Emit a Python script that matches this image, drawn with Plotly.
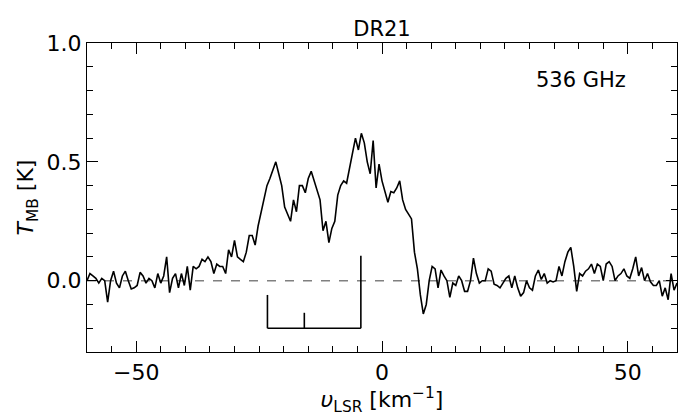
import numpy as np
import plotly.graph_objects as go

# Channel velocity grid (km/s): -60 .. 60, 0.6 km/s channels
v_start, v_step, n_chan = -60.0, 0.6, 201
velocity = [round(v_start + i * v_step, 2) for i in range(n_chan)]

# Main-beam temperature (K)
tmb = [
    # -60 .. -36.0
    0.0, 0.03, 0.02, 0.01, -0.01, 0.01, 0.0, -0.09, 0.0, 0.04,
    -0.01, -0.03, 0.02, 0.04, 0.0, -0.035, -0.03, -0.02, 0.035, 0.02,
    -0.01, 0.01, 0.0, -0.03, 0.03, -0.01, 0.02, 0.10, -0.05, 0.01,
    0.03, -0.03, 0.03, -0.02, 0.06, -0.04, 0.06, 0.05, 0.06, 0.09,
    0.08,
    # -35.4 .. -12.6
    0.10, 0.08, 0.03, 0.07, 0.06, 0.06, 0.03, 0.13, 0.10, 0.17,
    0.10, 0.09, 0.08, 0.12, 0.19, 0.19, 0.15, 0.23, 0.29, 0.34,
    0.40, 0.43, 0.47, 0.50, 0.45, 0.40, 0.31, 0.28, 0.25, 0.34,
    0.29, 0.40, 0.40, 0.37, 0.43, 0.46, 0.42, 0.37, 0.34,
    # -12.0 .. 10.2
    0.21, 0.25, 0.16, 0.22, 0.25, 0.36, 0.40, 0.42, 0.41, 0.47,
    0.53, 0.60, 0.55, 0.62, 0.58, 0.50, 0.45, 0.59, 0.39, 0.49,
    0.42, 0.37, 0.33, 0.375, 0.37, 0.39, 0.42, 0.34, 0.30, 0.28,
    0.26, 0.12, 0.05, -0.06, -0.14, -0.10, 0.0, 0.06,
    # 10.8 .. 34.2
    0.05, -0.03, 0.045, 0.02, 0.0, -0.07, -0.01, -0.02, 0.02, 0.0,
    -0.045, -0.045, 0.0, 0.095, 0.03, -0.01, 0.0, 0.0, 0.05, 0.04,
    -0.015, -0.02, -0.03, -0.01, 0.01, 0.02, -0.03, 0.02, -0.03, -0.065,
    -0.05, 0.0, -0.03, -0.04, 0.02, 0.045, 0.005, 0.03, -0.01, 0.0,
    # 34.8 .. 60.0
    -0.005, 0.0, 0.06, 0.02, 0.08, 0.12, 0.14, 0.06, -0.045, 0.03,
    0.02, 0.04, 0.05, 0.07, 0.03, 0.07, 0.06, 0.0, 0.07, 0.08,
    0.06, 0.0, 0.02, 0.03, 0.05, 0.02, 0.01, 0.05, 0.10, 0.02,
    0.055, 0.0, 0.03, -0.005, -0.02, -0.02, 0.0, -0.065, -0.03, -0.08,
    0.03, -0.04, -0.01,
]

# Velocity-component markers (bracket)
comp_vel = [-23.3, -15.8, -4.3]
comp_top = [-0.06, -0.135, 0.105]
bracket_level = -0.2

title_text = "DR21"
freq_label = "536 GHz"

FONT = "DejaVu Sans"
FS = 22

fig = go.Figure()

# Spectrum
fig.add_trace(go.Scatter(
    x=velocity, y=tmb, mode="lines",
    line=dict(color="black", width=1.6),
    hoverinfo="skip", showlegend=False,
))

# Bracket: vertical ticks + horizontal bar
bx, by = [], []
for v, t in zip(comp_vel, comp_top):
    bx += [v, v, None]
    by += [t, bracket_level, None]
bx += [min(comp_vel), max(comp_vel)]
by += [bracket_level, bracket_level]
fig.add_trace(go.Scatter(
    x=bx, y=by, mode="lines",
    line=dict(color="black", width=1.6),
    hoverinfo="skip", showlegend=False,
))

# Zero baseline
fig.add_shape(type="line", xref="paper", yref="y", x0=0, x1=1, y0=0, y1=0,
              line=dict(color="gray", width=1.4, dash="dash"), layer="below")

axis_common = dict(
    showgrid=False, zeroline=False, showline=True, linecolor="black",
    linewidth=1.3, mirror="allticks", ticks="inside", ticklen=11,
    tickwidth=1.3, tickcolor="black",
    tickfont=dict(family=FONT, size=FS, color="black"),
)

fig.update_xaxes(
    range=[-60, 60], tickvals=[-50, 0, 50], ticktext=["−50", "0", "50"],
    minor=dict(ticks="inside", ticklen=6, tickwidth=1.1, tickcolor="black", dtick=5, tick0=0),
    title=dict(text="<i>υ</i><sub>LSR</sub> [km<sup>−1</sup>]",
               font=dict(family=FONT, size=FS, color="black"), standoff=4),
    **axis_common,
)
fig.update_yaxes(
    range=[-0.3, 1.0], tickvals=[0.0, 0.5, 1.0], ticktext=["0.0", "0.5", "1.0"],
    minor=dict(ticks="inside", ticklen=6, tickwidth=1.1, tickcolor="black", dtick=0.1, tick0=0),
    title=dict(text="<i>T</i><sub>MB</sub> [K]",
               font=dict(family=FONT, size=FS, color="black"), standoff=6),
    **axis_common,
)

fig.add_annotation(
    text=freq_label, xref="paper", yref="paper", x=0.917, y=0.88,
    xanchor="right", yanchor="middle", showarrow=False,
    font=dict(family=FONT, size=FS - 1, color="black"),
)

fig.update_layout(
    width=678, height=416,
    margin=dict(l=87, r=1, t=43, b=64),
    paper_bgcolor="white", plot_bgcolor="white",
    title=dict(text=title_text, x=0.5, xref="paper", y=1, yref="paper",
               yanchor="bottom", pad=dict(b=7),
               font=dict(family=FONT, size=FS - 1, color="black")),
)

fig.write_html("out.html")
